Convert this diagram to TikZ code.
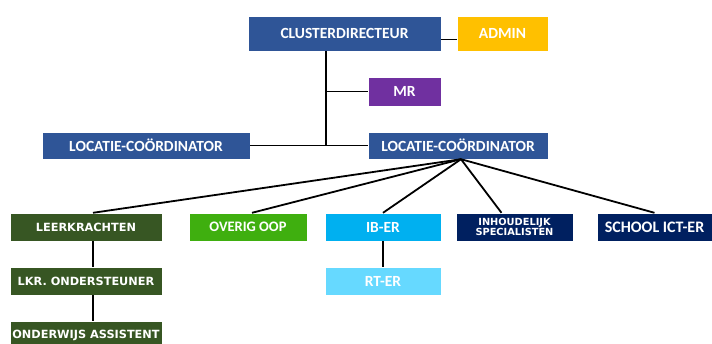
\documentclass[tikz,border=0pt]{standalone}
\usepackage{fontspec}
\setmainfont{Carlito}
\newfontfamily\wide{DejaVu Sans}
\definecolor{dirblue}{HTML}{2F5597}
\definecolor{admingold}{HTML}{FFC000}
\definecolor{mrpurple}{HTML}{7030A0}
\definecolor{lkgreen}{HTML}{375623}
\definecolor{oopgreen}{HTML}{3FAF0F}
\definecolor{ibblue}{HTML}{00B0F0}
\definecolor{rtblue}{HTML}{66D9FF}
\definecolor{navy}{HTML}{002060}
\tikzset{
  box/.style={fill=#1, draw=white, line width=0.4pt, text=white, inner sep=0pt, align=center, font=\bfseries\fontsize{15.5}{16}\selectfont},
  lkbox/.style={box=lkgreen, minimum width=152pt, minimum height=28pt, font=\wide\bfseries\fontsize{11.3}{12}\selectfont},
  link/.style={line width=1.8pt}
}
\begin{document}
\begin{tikzpicture}[x=1pt,y=-1pt]
\clip (0,0) rectangle (712,343);
\node[box=dirblue, minimum width=193pt, minimum height=35pt] (cd) at (344.5,33.5) {CLUSTERDIRECTEUR};
\node[box=admingold, minimum width=91pt, minimum height=35pt] (admin) at (502.5,33.5) {ADMIN};
\node[box=mrpurple, minimum width=73pt, minimum height=29pt] (mr) at (404.5,91.5) {MR};
\node[box=dirblue, minimum width=208pt, minimum height=27pt] (locL) at (146,145.5) {LOCATIE-CO\"ORDINATOR};
\node[box=dirblue, minimum width=180pt, minimum height=27pt] (locR) at (458,145.5) {LOCATIE-CO\"ORDINATOR};
\node[lkbox] (lk) at (86,227) {LEERKRACHTEN};
\node[box=oopgreen, minimum width=118pt, minimum height=28pt, font=\bfseries\fontsize{14.5}{15}\selectfont] (oop) at (248,227) {OVERIG OOP};
\node[box=ibblue, minimum width=116pt, minimum height=28pt] (ib) at (383,227) {IB-ER};
\node[box=navy, minimum width=117pt, minimum height=28pt, font=\wide\bfseries\fontsize{9.8}{10.5}\selectfont] (inh) at (514.5,227) {INHOUDELIJK\\SPECIALISTEN};
\node[box=navy, minimum width=115pt, minimum height=28pt, font=\bfseries\fontsize{16}{17}\selectfont] (ict) at (654.5,227) {SCHOOL ICT-ER};
\node[lkbox] (lko) at (86,281) {LKR. ONDERSTEUNER};
\node[box=rtblue, minimum width=116pt, minimum height=28pt] (rt) at (383,281) {RT-ER};
\node[lkbox] (oa) at (86,335) {ONDERWIJS ASSISTENT};
\coordinate (spine) at (326,145.5);
\draw[link] ([yshift=-6pt]cd.east) -- ([yshift=-6pt]admin.west);
\draw[link] (spine |- cd.south) -- (spine);
\draw[link] (mr.west) -- (mr.west -| spine);
\draw[link] (locL) -- (locR);
\draw[link] ([xshift=3pt]locR.south) -- ([xshift=7pt]lk.north);
\draw[link] ([xshift=3pt]locR.south) -- ([xshift=4pt]oop.north);
\draw[link] ([xshift=3pt]locR.south) -- (ib.north);
\draw[link] ([xshift=3pt]locR.south) -- ([xshift=-13pt]inh.north);
\draw[link] ([xshift=3pt]locR.south) -- (ict.north);
\draw[link] ([xshift=7pt]lk.south) -- ([xshift=7pt]lko.north);
\draw[link] ([xshift=7pt]lko.south) -- ([xshift=7pt]oa.north);
\draw[link] (ib.south) -- (rt.north);
\end{tikzpicture}
\end{document}
